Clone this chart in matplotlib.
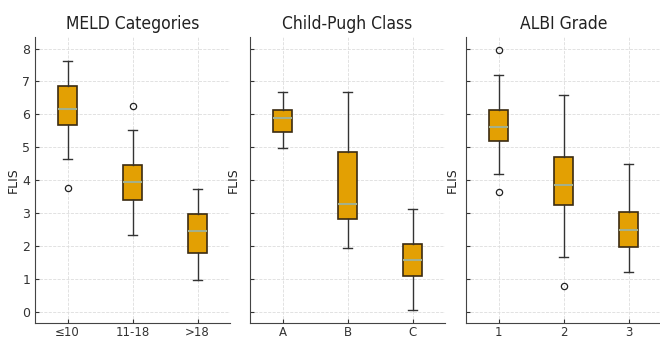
import matplotlib.pyplot as plt

titles = ["MELD Categories", "Child-Pugh Class", "ALBI Grade"]
labels = [["≤10", "11-18", ">18"], ["A", "B", "C"], ["1", "2", "3"]]

# per box: whisker low, Q1, median, Q3, whisker high
meld_lo = [4.64, 2.34, 0.98]
meld_q1 = [5.69, 3.41, 1.78]
meld_med = [6.15, 3.95, 2.45]
meld_q3 = [6.87, 4.47, 2.99]
meld_hi = [7.63, 5.53, 3.73]
meld_out = [[3.76], [6.25], []]

cp_lo = [4.97, 1.96, 0.06]
cp_q1 = [5.46, 2.83, 1.10]
cp_med = [5.90, 3.28, 1.58]
cp_q3 = [6.13, 4.87, 2.06]
cp_hi = [6.68, 6.67, 3.12]
cp_out = [[], [], []]

albi_lo = [4.18, 1.68, 1.21]
albi_q1 = [5.20, 3.26, 1.97]
albi_med = [5.61, 3.86, 2.50]
albi_q3 = [6.12, 4.72, 3.04]
albi_hi = [7.20, 6.58, 4.49]
albi_out = [[7.96, 3.65], [0.79], []]

groups = [
    (meld_lo, meld_q1, meld_med, meld_q3, meld_hi, meld_out),
    (cp_lo, cp_q1, cp_med, cp_q3, cp_hi, cp_out),
    (albi_lo, albi_q1, albi_med, albi_q3, albi_hi, albi_out),
]

fig = plt.figure(figsize=(6.6, 3.4), dpi=100)
lefts = [35 / 660, 250 / 660, 466 / 660]
label_x = [-0.077, -0.051, -0.036]
axes = []
for i, l in enumerate(lefts):
    if i == 0:
        ax = fig.add_axes([l, 17 / 340, 195 / 660, 286 / 340])
    else:
        ax = fig.add_axes([l, 17 / 340, 195 / 660, 286 / 340], sharey=axes[0])
    axes.append(ax)

for i, ax in enumerate(axes):
    lo, q1, med, q3, hi, out = groups[i]
    stats = []
    for j in range(3):
        stats.append({"whislo": lo[j], "q1": q1[j], "med": med[j], "q3": q3[j],
                      "whishi": hi[j], "fliers": out[j], "label": labels[i][j]})
    ax.bxp(stats, widths=0.3, patch_artist=True, capwidths=0.15,
           boxprops=dict(facecolor="#E3A003", edgecolor="#3b2b12", linewidth=1.2),
           medianprops=dict(color="#a3b08c", linewidth=1.5),
           whiskerprops=dict(color="#333333", linewidth=1),
           capprops=dict(color="#333333", linewidth=1),
           flierprops=dict(marker="o", markerfacecolor="none", markeredgecolor="#222222",
                           markersize=4.5, markeredgewidth=0.9))
    ax.set_title(titles[i], fontsize=12.5, fontstretch="condensed", color="#222222", pad=6)
    ax.set_ylabel("FLIS", fontsize=9, color="#222222")
    ax.yaxis.set_label_coords(label_x[i], 0.5)
    ax.grid(True, linestyle="--", color="#dddddd", linewidth=0.6)
    ax.set_axisbelow(True)
    ax.spines["top"].set_visible(False)
    ax.spines["right"].set_visible(False)
    for s in ["left", "bottom"]:
        ax.spines[s].set_color("#444444")
    ax.tick_params(direction="in", length=3, labelsize=9, colors="#333333")
    ax.tick_params(axis="x", pad=2, labelsize=8.5)
    ax.set_xlim(0.5, 3.5)
    if i > 0:
        ax.tick_params(axis="y", labelleft=False)

axes[0].set_ylim(-0.33, 8.35)
axes[0].set_yticks(range(0, 9))

fig.savefig("out.png", dpi=100)
